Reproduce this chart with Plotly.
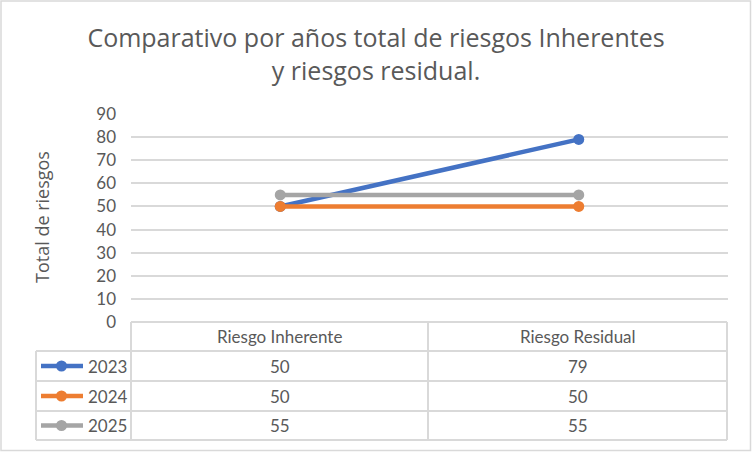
import plotly.graph_objects as go

categories = ["Riesgo Inherente", "Riesgo Residual"]
series_names = ["2023", "2024", "2025"]
values_2023 = [50, 79]
values_2024 = [50, 50]
values_2025 = [55, 55]
series_values = [values_2023, values_2024, values_2025]
colors = ["#4472C4", "#ED7D31", "#A5A5A5"]
y_ticks = [0, 10, 20, 30, 40, 50, 60, 70, 80, 90]

W, H = 752, 452
L, R, T, B = 131, 24, 114, 130
pw, ph = W - L - R, H - T - B


def px(x):
    return (x - L) / pw


def py(y):
    return 1 - (y - T) / ph


fig = go.Figure()
for name, vals, col in zip(series_names, series_values, colors):
    fig.add_trace(go.Scatter(
        x=categories, y=vals, name=name, mode="lines+markers",
        line=dict(color=col, width=4.5),
        marker=dict(color=col, size=11),
        showlegend=False, hoverinfo="skip"))

grey_txt = "#595959"
border = "#D9D9D9"
shapes = []
annotations = []

# outer chart border
shapes.append(dict(type="rect", xref="paper", yref="paper",
                   x0=px(1), x1=px(750.5), y0=py(450.5), y1=py(1),
                   line=dict(color=border, width=1.5)))

# data table geometry
col_x = [131, 428, 727]
row_y = [322, 351, 381, 411, 440]
legend_x = 36
shapes.append(dict(type="line", xref="paper", yref="paper",
                   x0=px(col_x[0]), x1=px(col_x[-1]), y0=py(row_y[0]), y1=py(row_y[0]),
                   line=dict(color=border, width=2)))
for yy in row_y[1:]:
    shapes.append(dict(type="line", xref="paper", yref="paper",
                       x0=px(legend_x), x1=px(col_x[-1]), y0=py(yy), y1=py(yy),
                       line=dict(color=border, width=2)))
for xx in col_x:
    shapes.append(dict(type="line", xref="paper", yref="paper",
                       x0=px(xx), x1=px(xx), y0=py(row_y[0]), y1=py(row_y[-1]),
                       line=dict(color=border, width=2)))
shapes.append(dict(type="line", xref="paper", yref="paper",
                   x0=px(legend_x), x1=px(legend_x), y0=py(row_y[1]), y1=py(row_y[-1]),
                   line=dict(color=border, width=2)))

cell_font = dict(family="Lato, Calibri, sans-serif", size=17, color=grey_txt)
for i, cat in enumerate(categories):
    annotations.append(dict(text=cat, xref="paper", yref="paper",
                            x=px((col_x[i] + col_x[i + 1]) / 2), y=py((row_y[0] + row_y[1]) / 2),
                            showarrow=False, font=cell_font, xanchor="center", yanchor="middle"))
for r, (name, vals, col) in enumerate(zip(series_names, series_values, colors)):
    yc = (row_y[r + 1] + row_y[r + 2]) / 2
    shapes.append(dict(type="line", xref="paper", yref="paper",
                       x0=px(41), x1=px(83), y0=py(yc), y1=py(yc),
                       line=dict(color=col, width=4.5)))
    shapes.append(dict(type="circle", xref="paper", yref="paper",
                       x0=px(61.5 - 5.5), x1=px(61.5 + 5.5), y0=py(yc + 5.5), y1=py(yc - 5.5),
                       fillcolor=col, line=dict(color=col, width=0)))
    annotations.append(dict(text=name, xref="paper", yref="paper",
                            x=px(86), y=py(yc), showarrow=False, font=cell_font,
                            xanchor="left", yanchor="middle"))
    for i, v in enumerate(vals):
        annotations.append(dict(text=str(v), xref="paper", yref="paper",
                                x=px((col_x[i] + col_x[i + 1]) / 2), y=py(yc),
                                showarrow=False, font=cell_font, xanchor="center", yanchor="middle"))

annotations.append(dict(text="Total de riesgos", xref="paper", yref="paper",
                        x=px(42), y=py(217), textangle=-90, showarrow=False,
                        font=dict(family="Open Sans, sans-serif", size=18, color=grey_txt),
                        xanchor="center", yanchor="middle"))

fig.update_layout(
    width=W, height=H,
    margin=dict(l=L, r=R, t=T, b=B),
    paper_bgcolor="white", plot_bgcolor="white",
    title=dict(text="Comparativo por años total de riesgos Inherentes<br>y riesgos residual.",
               x=px(376), xref="paper", xanchor="center", y=1 - 47 / H, yanchor="middle",
               font=dict(family="Open Sans, sans-serif", size=25, color=grey_txt)),
    xaxis=dict(type="category", range=[-0.5, 1.5], showticklabels=False,
               showgrid=False, zeroline=False, showline=False, fixedrange=True),
    yaxis=dict(range=[0, 90], tickvals=y_ticks, showgrid=True, gridcolor=border, gridwidth=1.5,
               zeroline=False, showline=False, ticks="", ticklabelstandoff=14,
               tickfont=dict(family="Lato, Calibri, sans-serif", size=17, color=grey_txt)),
    shapes=shapes, annotations=annotations,
)
fig.write_html("out.html")
